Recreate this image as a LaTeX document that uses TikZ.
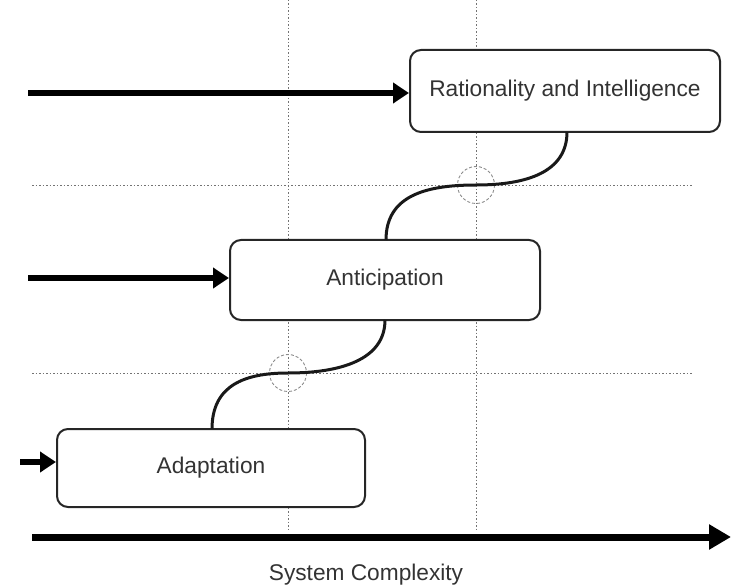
\documentclass[tikz,border=0pt]{standalone}
\usepackage{fontspec}
\setmainfont{Liberation Sans}
\usetikzlibrary{arrows.meta}
\begin{document}
\begin{tikzpicture}[x=1pt,y=-1pt,
  stage/.style={draw=black!85,line width=2pt,rounded corners=11pt,fill=white,
    inner sep=0pt,font=\fontsize{22.7}{26}\selectfont,text=black!80},
  grid/.style={draw=black!55,line width=0.9pt,dash pattern=on 1.5pt off 2pt},
  feed/.style={line width=6pt,-{Triangle[length=16pt,width=20pt]}},
  link/.style={line width=3pt,black!90},
  ring/.style={draw=black!45,line width=0.9pt,dash pattern=on 3pt off 2pt}]
\useasboundingbox (0,0) rectangle (731,588);

% guide lines
\draw[grid] (288,0) -- (288,532);
\draw[grid] (476,0) -- (476,532);
\draw[grid] (32,185) -- (693,185);
\draw[grid] (32,373) -- (693,373);

% transition markers
\draw[ring] (288,373) circle (18.5);
\draw[ring] (476,185) circle (18.5);

% stages
\node[stage,minimum width=310pt,minimum height=82pt] (ri) at (565,91) {Rationality and Intelligence};
\node[stage,minimum width=310pt,minimum height=80pt] (an) at (385,280) {Anticipation};
\node[stage,minimum width=308pt,minimum height=78pt] (ad) at (211,468) {Adaptation};

% inputs
\coordinate (i1) at (28,93);
\coordinate (i2) at (28,278);
\coordinate (i3) at (20,462);
\draw[feed] (i1) -- (ri.west |- i1);
\draw[feed] (i2) -- (an.west |- i2);
\draw[feed] (i3) -- (ad.west |- i3);

% transitions between stages
\coordinate (a1) at (212,429);
\coordinate (a2) at (385,320);
\draw[link] (a1) .. controls (212,385) and (245,373) .. (288,373)
  .. controls (340,373) and (385,360) .. (a2);
\coordinate (b1) at (386,240);
\coordinate (b2) at (567,132);
\draw[link] (b1) .. controls (386,196) and (425,185) .. (476,185)
  .. controls (527,185) and (567,172) .. (b2);

% axis
\coordinate (x0) at (32,537);
\coordinate (x1) at (731,537);
\draw[line width=7pt,-{Triangle[length=22pt,width=24pt]}] (x0) -- (x1);
\node[font=\fontsize{22.7}{26}\selectfont,text=black!80,inner sep=1pt] (xl) at (366,575) {System Complexity};
\end{tikzpicture}
\end{document}
